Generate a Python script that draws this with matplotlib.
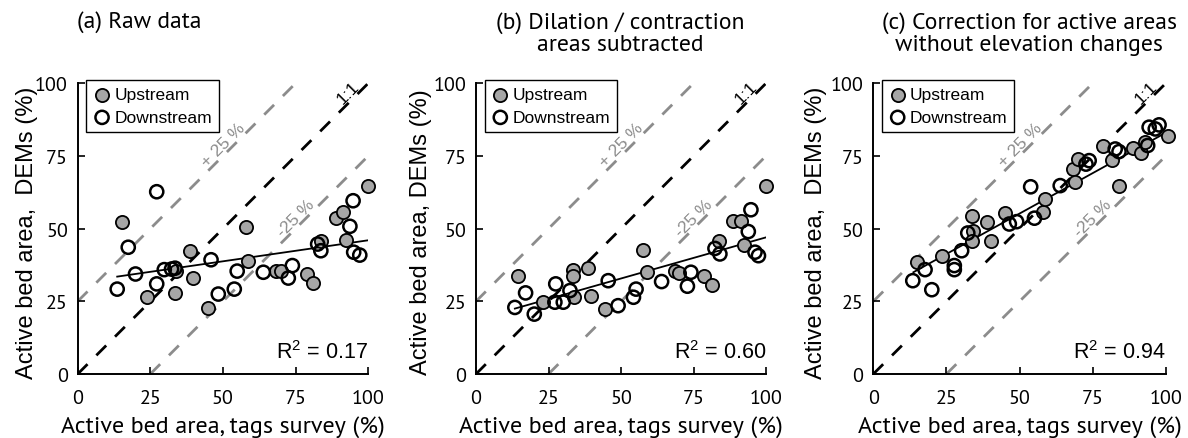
import numpy as np
import matplotlib
matplotlib.use('Agg')
import matplotlib.pyplot as plt

HUMANIST = ['PT Sans', 'DejaVu Sans']
SANS = ['Liberation Sans', 'DejaVu Sans']
plt.rcParams['mathtext.fontset'] = 'custom'
plt.rcParams['mathtext.rm'] = 'Liberation Sans'

# (a) raw data
a_up_x = [15.1, 23.7, 33.5, 34.0, 38.6, 39.8, 44.9, 57.8, 58.7, 68.2, 70.0, 79.0, 81.1, 83.9, 88.8, 91.2, 92.5, 100.0]
a_up_y = [52.2, 26.6, 27.9, 35.5, 42.2, 32.9, 22.6, 50.6, 39.0, 35.4, 35.4, 34.4, 31.3, 45.9, 53.6, 55.6, 46.2, 64.6]
a_dn_x = [13.6, 17.4, 19.9, 27.2, 27.2, 29.8, 32.3, 33.5, 45.9, 48.4, 53.9, 54.9, 63.9, 72.5, 73.9, 82.6, 83.7, 94.8, 93.7, 95.0, 97.1]
a_dn_y = [29.2, 43.6, 34.4, 62.7, 31.0, 35.9, 36.1, 36.4, 39.3, 27.5, 29.2, 35.4, 35.0, 33.0, 37.3, 44.7, 42.4, 59.6, 50.8, 41.9, 40.9]
a_fit_x = [13.6, 100.0]
a_fit_y = [33.5, 46.0]

# (b) dilation / contraction areas subtracted
b_up_x = [14.6, 23.2, 33.6, 33.6, 33.9, 38.5, 39.7, 44.5, 57.7, 58.9, 68.6, 70.0, 78.6, 81.3, 83.9, 88.7, 91.3, 92.4, 100.0]
b_up_y = [33.6, 24.7, 35.9, 33.8, 26.4, 36.4, 26.7, 22.4, 42.8, 35.0, 35.6, 34.6, 33.8, 30.7, 45.9, 52.7, 52.7, 44.4, 64.6]
b_dn_x = [13.4, 17.1, 20.1, 27.2, 27.5, 30.1, 32.4, 45.6, 49.0, 54.3, 55.2, 64.0, 72.9, 74.1, 82.4, 84.1, 94.8, 93.9, 96.2, 97.4]
b_dn_y = [22.9, 27.9, 20.6, 24.7, 31.0, 24.7, 28.7, 32.1, 23.5, 26.4, 29.2, 31.8, 30.2, 35.0, 43.2, 41.3, 56.5, 49.0, 41.9, 40.7]
b_fit_x = [13.4, 100.0]
b_fit_y = [22.5, 47.0]

# (c) correction for active areas without elevation changes
c_up_x = [14.8, 23.4, 33.6, 34.2, 33.9, 38.8, 40.3, 45.0, 57.9, 58.7, 68.4, 69.0, 70.1, 78.7, 81.5, 84.1, 88.9, 91.6, 92.9, 100.7]
c_up_y = [38.4, 40.7, 54.2, 49.3, 45.9, 52.4, 45.9, 55.4, 55.8, 60.2, 70.5, 66.0, 74.0, 78.3, 73.7, 64.6, 77.6, 75.9, 79.7, 81.8]
c_dn_x = [13.5, 17.7, 20.0, 27.7, 27.7, 30.2, 32.3, 46.5, 49.0, 53.8, 55.1, 63.9, 72.7, 73.8, 82.7, 84.0, 93.8, 94.3, 96.4, 97.7]
c_dn_y = [32.1, 35.9, 29.0, 37.3, 35.9, 42.4, 48.5, 51.6, 52.4, 64.4, 53.6, 64.8, 72.2, 73.4, 77.4, 76.5, 78.6, 84.9, 84.3, 85.7]
c_fit_x = [13.7, 100.0]
c_fit_y = [35.0, 83.0]

r2_values = ['0.17', '0.60', '0.94']
ylabels = ['Active bed area,  DEMs (%)', 'Active bed area, DEMs (%)', 'Active bed area,  DEMs (%)']
titles = ['(a) Raw data',
          '(b) Dilation / contraction\nareas subtracted',
          '(c) Correction for active areas\nwithout elevation changes']
ticks = [0, 25, 50, 75, 100]

panels = [
    (a_up_x, a_up_y, a_dn_x, a_dn_y, a_fit_x, a_fit_y),
    (b_up_x, b_up_y, b_dn_x, b_dn_y, b_fit_x, b_fit_y),
    (c_up_x, c_up_y, c_dn_x, c_dn_y, c_fit_x, c_fit_y),
]

W, H = 1188, 439
fig = plt.figure(figsize=(W / 100, H / 100), dpi=100)
lefts = [77.7, 476.0, 873.3]
widths = [290.5, 290.0, 292.5]
ylabel_x = [-0.138, -0.152, -0.157]
bottom = 1 - 375 / H
height = (375 - 84.3) / H

GREY_LINE = '#8c8c8c'
GREY_FILL = '#a6a6a6'

for i, (ux, uy, dx, dy, fx, fy) in enumerate(panels):
    ax = fig.add_axes([lefts[i] / W, bottom, widths[i] / W, height])
    ax.set_xlim(0, 100)
    ax.set_ylim(0, 100)
    for s in ['top', 'right']:
        ax.spines[s].set_visible(False)
    for s in ['left', 'bottom']:
        ax.spines[s].set_linewidth(1.4)

    # reference lines: 1:1 and +/- 25 %
    ax.plot([0, 100], [0, 100], color='black', lw=2.0, dashes=(5, 4.5), zorder=1)
    ax.plot([0, 75], [25, 100], color=GREY_LINE, lw=2.0, dashes=(5, 4.5), zorder=1)
    ax.plot([25, 100], [0, 75], color=GREY_LINE, lw=2.0, dashes=(5, 4.5), zorder=1)
    ax.text(95, 95, '1:1', rotation=45, rotation_mode='anchor', ha='center', va='bottom',
            fontsize=12.5, color='black', family=SANS)
    ax.text(52, 77, '+ 25 %', rotation=45, rotation_mode='anchor', ha='center', va='bottom',
            fontsize=12.5, color=GREY_LINE, family=SANS)
    ax.text(77, 52, '-25 %', rotation=45, rotation_mode='anchor', ha='center', va='bottom',
            fontsize=12.5, color=GREY_LINE, family=SANS)

    ax.plot(fx, fy, color='black', lw=1.3, zorder=2)
    ax.scatter(ux, uy, s=90, facecolor=GREY_FILL, edgecolor='black', linewidth=1.3,
               zorder=3, clip_on=False, label='Upstream')
    ax.scatter(dx, dy, s=90, facecolor='none', edgecolor='black', linewidth=1.8,
               zorder=4, clip_on=False, label='Downstream')

    ax.set_xticks(ticks)
    ax.set_yticks(ticks)
    ax.tick_params(direction='in', length=5, width=1.2, labelsize=14.5)
    ax.tick_params(axis='x', pad=11)
    ax.tick_params(axis='y', pad=7)
    for lab in ax.get_xticklabels() + ax.get_yticklabels():
        lab.set_family(HUMANIST)

    ax.set_xlabel('Active bed area, tags survey (%)', fontsize=17.4, family=HUMANIST, labelpad=6)
    ax.set_ylabel(ylabels[i], fontsize=17, family=SANS)
    ax.yaxis.set_label_coords(ylabel_x[i], 0.49)

    ax.text(100, 5.5, 'R$^2$ = ' + r2_values[i], ha='right', va='baseline', fontsize=15.5,
            family=SANS)

    leg = ax.legend(loc='upper left', bbox_to_anchor=(0.03, 1.01), borderaxespad=0,
                    fancybox=False, edgecolor='black', framealpha=1, handletextpad=0.2,
                    borderpad=0.4, labelspacing=0.42, handlelength=1.0,
                    prop={'family': SANS, 'size': 12.5})
    leg.get_frame().set_linewidth(1.0)

fig.text(76.7 / W, 1 - 22 / H, titles[0], fontsize=17, family=HUMANIST, va='center', ha='left')
fig.text(620 / W, 1 - 34 / H, titles[1], fontsize=17, family=HUMANIST, va='center',
         ha='center', multialignment='center', linespacing=1.05)
fig.text(1029 / W, 1 - 34 / H, titles[2], fontsize=17, family=HUMANIST, va='center',
         ha='center', multialignment='center', linespacing=1.05)

fig.savefig('out.png', dpi=100)
